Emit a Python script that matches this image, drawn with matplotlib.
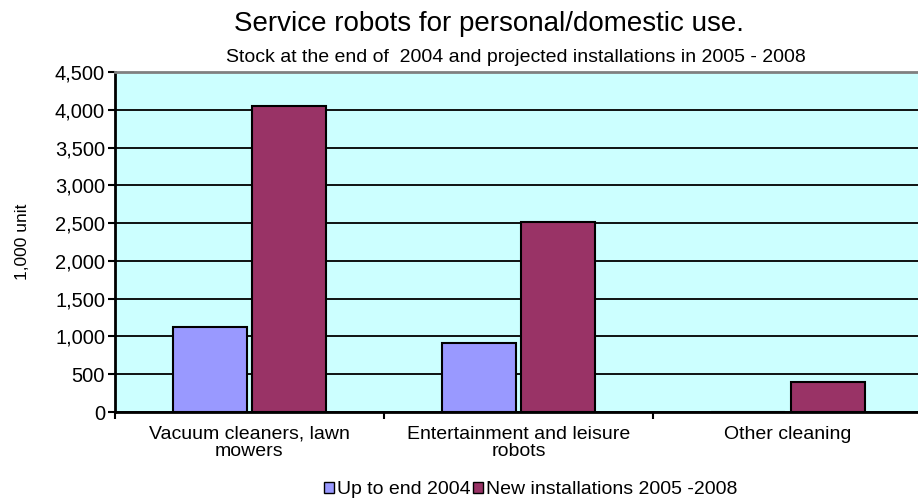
import numpy as np
import matplotlib.pyplot as plt
from matplotlib.ticker import FuncFormatter

plt.rcParams['font.family'] = ['Liberation Sans', 'DejaVu Sans']

categories = ["Vacuum cleaners, lawn\nmowers", "Entertainment and leisure\nrobots", "Other cleaning"]
stock_2004 = [1130, 910, 0]
new_2005_2008 = [4050, 2510, 400]
series_names = ["Up to end 2004", "New installations 2005 -2008"]

fig = plt.figure(figsize=(9.18, 5.0), dpi=100)
# plot area runs a little past the right edge, as in the source
ax = fig.add_axes([0.125, 0.176, 0.880, 0.68])
ax.set_facecolor('#CCFFFF')

x = np.arange(len(categories))
w = 0.275
off = 0.147
ax.bar(x - off, stock_2004, w, color='#9999FF', edgecolor='black', linewidth=1.5, zorder=3)
ax.bar(x + off, new_2005_2008, w, color='#993366', edgecolor='black', linewidth=1.5, zorder=3)

ax.set_xlim(-0.5, len(categories) - 0.5)
ax.set_ylim(0, 4500)
ax.set_yticks(np.arange(0, 4501, 500))
ax.yaxis.set_major_formatter(FuncFormatter(lambda v, p: f"{int(v):,}"))
ax.yaxis.grid(True, color='black', linewidth=1.3, zorder=1)
ax.set_axisbelow(True)

ax.set_xticks(np.arange(-0.5, len(categories), 1.0))
ax.set_xticklabels([])
ax.set_xticks(x, minor=True)
ax.set_xticklabels(categories, minor=True, fontsize=14, linespacing=1.0)
ax.tick_params(axis='x', which='minor', length=0, pad=10)
ax.tick_params(axis='x', which='major', length=5, width=1.5, direction='out')
ax.tick_params(axis='y', length=5, width=1.5, labelsize=14.5, pad=2)

for s in ['left', 'bottom']:
    ax.spines[s].set_linewidth(2)
ax.spines['top'].set_color('#808080')
ax.spines['top'].set_linewidth(2)
ax.spines['right'].set_visible(False)

ax.set_ylabel("1,000 unit", fontsize=12.5, labelpad=18)

fig.text(0.533, 0.952, "Service robots for personal/domestic use.", ha='center', va='center', fontsize=20)
fig.text(0.562, 0.886, "Stock at the end of  2004 and projected installations in 2005 - 2008", ha='center', va='center', fontsize=14)

handles = [plt.Rectangle((0, 0), 1, 1, facecolor=c, edgecolor='black') for c in ['#9999FF', '#993366']]
fig.legend(handles, series_names, loc='center', bbox_to_anchor=(0.578, 0.02), ncol=2, frameon=False,
           fontsize=14, handlelength=0.55, handleheight=0.55, handletextpad=0.15, columnspacing=0.1)

fig.savefig('out.png', dpi=100)
